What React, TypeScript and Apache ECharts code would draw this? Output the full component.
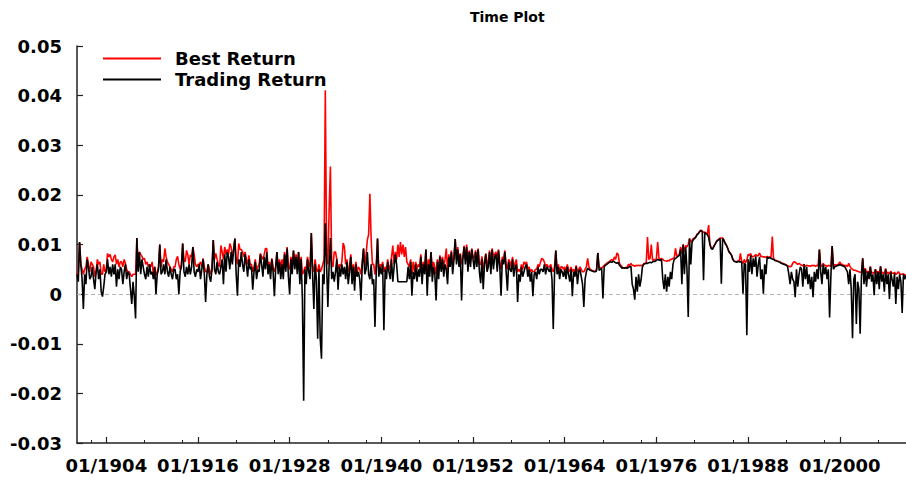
import React, { useEffect, useRef } from "react";
import * as echarts from "echarts";

// Bimonthly observations: Mar 1900 ... Sep 2008 (652 points), values in units of 0.0001
const START_YEAR = 1900;
const START_MONTH = 3;
const STEP_MONTHS = 2;

const xLabelYears = [1904, 1916, 1928, 1940, 1952, 1964, 1976, 1988, 2000];
const minorTickOffsets = [5, 10];
const yTicks = [-0.03, -0.02, -0.01, 0, 0.01, 0.02, 0.03, 0.04, 0.05];

const tradingReturn = [
  40, 25, 105, 60, 30,
  -30, 40, 20, 70, 55, 30,
  35, 55, 30, 10, 45, 60,
  30, 50, 5, -5, 15, 40,
  45, 70, 40, 55, 35, 60,
  40, 60, 15, 50, 30, 55,
  50, 20, 45, 60, 30, 45,
  40, 10, -20, 25, -5, -49,
  113, 45, 85, 40, 70, 55,
  40, 30, 55, 35, 60, 40,
  45, 30, 55, 0, 40, 50,
  100, 40, 45, 60, 40, 70,
  45, 35, 55, 40, 30, 50,
  50, 30, 40, 0, 45, 55,
  102, 45, 35, 55, 40, 60,
  40, 55, 95, 45, 35, 50,
  45, 60, 30, 50, 70, 40,
  -16, 40, 60, 35, 25, 50,
  109, 50, 40, 65, 45, 40,
  55, 70, 20, 80, 45, 85,
  75, 50, 85, 60, 90, 112,
  40, -3, 70, 55, 85, 60,
  45, 80, 60, 35, 70, 50,
  55, 9, 45, 65, 30, 50,
  45, 80, 60, 35, 75, 50,
  85, 40, 60, 30, 70, 45,
  -4, 50, 85, 40, 65, 30,
  60, 30, 80, 45, 92, 35,
  0, 70, 40, 88, 50, 75,
  40, 85, 20, 70, -10, -215,
  50, 20, 70, 45, 30, 123,
  40, -30, 60, 30, -90, 50,
  -90, -130, 40, 20, 143, 60,
  -26, 60, 113, 30, 45, 25,
  45, 70, 9, 55, 35, 60,
  40, 55, 30, 65, 20, 45,
  75, 20, 55, 7, 60, 35,
  45, 30, -13, 60, 92, 40,
  50, 85, 40, 30, 60, 20,
  30, -66, 45, 112, 35, 55,
  40, 60, -73, 50, 30, 65,
  45, 30, 70, 25, 55, 80,
  60, 25, 25, 25, 25, 25,
  25, 25, 25, 55, 30, 65,
  -3, 45, 30, 60, 25, 50,
  35, 75, 20, 60, 40, 90,
  -3, 60, 35, 85, 25, 55,
  40, -13, 65, 30, 75, 45,
  70, 35, 60, 50, 20, 75,
  55, 85, 40, 70, 111, 60,
  90, 55, 80, -13, 70, 95,
  60, 95, 45, 85, 55, 90,
  70, 50, 85, 55, 90, 45,
  22, 70, 10, 60, 80, 45,
  55, 85, 40, 90, 50, 75,
  80, 45, 88, 55, -3, 70,
  60, 85, 45, 7, 65, 50,
  45, 70, 35, 55, 60, -16,
  40, 25, 55, 35, 45, 55,
  60, 35, 50, 25, 45, -4,
  40, 45, 30, 55, 40, 50,
  50, 45, 60, 40, 55, 50,
  45, 55, 30, -70, 40, 88,
  40, 55, 30, 50, 45, 35,
  50, 30, 55, 40, 25, 50,
  -4, 45, 35, 55, 20, 45,
  50, 35, 20, -26, 30, 45,
  52, 50, 48, 47, 46, 45,
  45, 47, 83, 48, 50, 52,
  -9, 55, 58, 60, 62, 64,
  65, 64, 66, 65, 63, 62,
  64, 58, 55, 52, 53, 52,
  53, 52, 54, 55, 56, 20,
  10, -11, 35, 5, 40, 15,
  30, 55, 60, 61, 62, 62,
  63, 64, 63, 65, 66, 66,
  68, 70, 69, 68, 70, 30,
  10, 40, 5, 35, 15, 45,
  30, 60, 70, 72, 74, 76,
  78, 90, 20, 100, 40, 95,
  50, -46, 112, 60, 105, 110,
  112, 115, 120, 122, 126, 128,
  126, 28, 124, 122, 120, 115,
  100, 92, 90, 95, 100, 105,
  108, 110, 112, 21, 112, 108,
  102, 98, 92, 85, 82, 78,
  70, 66, 65, 64, 66, 65,
  65, 64, 1, 62, 60, -83,
  70, 45, 78, 40, 72, 55,
  76, 35, 60, 75, 30, 50,
  1, 60, 40, 75, 72, 74,
  72, 71, 70, 68, 67, 66,
  65, 64, 62, 61, 60, 59,
  58, 56, 40, 20, 45, 30,
  25, -6, 50, 15, 40, 55,
  50, 15, 60, 30, 55, 20,
  40, 10, 35, -6, 45, 25,
  50, 30, 90, 45, 20, 60,
  40, 55, 30, 50, -47, 35,
  97, 50, 55, 56, 57, 58,
  59, 58, 57, 56, 55, 50,
  45, 20, 50, 10, -89, 30,
  40, -60, 25, 10, -80, 35,
  72, 20, 50, 15, 45, 30,
  55, 25, 40, -2, 50, 20,
  45, 10, 56, 25, 40, 5,
  50, 20, 40, -10, 45, 30,
  15, 42, -20, 35, 10, 40,
  25, -38, 40, 30, 38,
];

const bestReturn = [
  40, 45, 105, 60, 50,
  40, 50, 55, 75, 60, 45,
  65, 60, 55, 35, 45, 70,
  60, 65, 40, 40, 60, 45,
  50, 82, 75, 80, 70, 65,
  75, 79, 60, 70, 55, 65,
  65, 55, 70, 62, 50, 45,
  45, 40, 35, 40, 40, 40,
  113, 60, 85, 80, 76, 70,
  72, 60, 65, 55, 60, 55,
  65, 40, 55, 38, 45, 55,
  100, 55, 70, 65, 92, 75,
  65, 60, 55, 50, 45, 55,
  55, 70, 76, 60, 50, 60,
  102, 70, 65, 88, 80, 60,
  79, 75, 95, 80, 60, 55,
  60, 60, 65, 55, 72, 55,
  45, 45, 60, 50, 40, 50,
  109, 70, 82, 70, 60, 55,
  98, 85, 70, 95, 80, 90,
  80, 102, 95, 75, 90, 112,
  70, 60, 102, 90, 90, 85,
  75, 85, 70, 60, 78, 60,
  60, 45, 55, 70, 50, 55,
  60, 82, 75, 70, 80, 92,
  92, 55, 65, 50, 72, 55,
  45, 55, 85, 55, 70, 50,
  70, 55, 85, 60, 95, 55,
  50, 75, 60, 88, 60, 80,
  60, 85, 55, 75, 40, 45,
  55, 50, 75, 60, 55, 123,
  55, 45, 70, 50, 45, 60,
  45, 50, 60, 70, 411, 90,
  60, 169, 257, 60, 55, 85,
  85, 70, 50, 60, 55, 65,
  103, 95, 60, 70, 45, 55,
  80, 45, 60, 40, 65, 45,
  55, 50, 40, 65, 92, 55,
  80, 109, 120, 202, 110, 60,
  60, 40, 60, 112, 50, 60,
  55, 65, 45, 55, 50, 70,
  50, 55, 75, 98, 60, 85,
  70, 100, 75, 105, 80, 100,
  75, 95, 65, 60, 55, 70,
  40, 65, 45, 65, 50, 60,
  55, 80, 45, 65, 55, 90,
  40, 70, 55, 85, 50, 65,
  55, 40, 70, 55, 78, 60,
  75, 55, 70, 92, 45, 80,
  60, 88, 55, 75, 111, 70,
  95, 65, 82, 60, 75, 98,
  70, 100, 60, 88, 65, 92,
  76, 72, 88, 65, 92, 60,
  60, 76, 50, 65, 82, 55,
  70, 88, 60, 92, 75, 80,
  85, 70, 90, 65, 50, 75,
  70, 88, 60, 50, 70, 65,
  55, 75, 55, 62, 70, 45,
  50, 45, 60, 50, 65, 60,
  65, 50, 55, 45, 50, 45,
  45, 50, 50, 60, 55, 65,
  72, 70, 65, 55, 60, 55,
  55, 60, 50, 45, 55, 88,
  50, 60, 45, 55, 55, 50,
  55, 45, 60, 50, 45, 55,
  45, 50, 45, 58, 45, 50,
  55, 50, 45, 45, 50, 55,
  72, 55, 50, 48, 47, 46,
  46, 50, 83, 55, 52, 53,
  55, 58, 60, 62, 64, 65,
  68, 70, 66, 75, 70, 83,
  80, 62, 58, 55, 53, 52,
  54, 53, 60, 58, 62, 58,
  58, 56, 58, 57, 58, 57,
  58, 57, 61, 62, 63, 115,
  70, 72, 100, 68, 70, 68,
  72, 105, 72, 70, 72, 70,
  68, 67, 66, 68, 67, 70,
  70, 72, 73, 92, 76, 78,
  80, 95, 82, 100, 85, 98,
  95, 100, 112, 105, 108, 112,
  113, 116, 121, 123, 127, 129,
  127, 124, 125, 123, 121, 139,
  101, 93, 91, 96, 101, 106,
  109, 111, 113, 113, 113, 109,
  103, 99, 93, 86, 83, 79,
  71, 67, 66, 65, 67, 66,
  82, 65, 62, 70, 63, 68,
  80, 78, 82, 75, 76, 77,
  80, 77, 78, 83, 76, 76,
  75, 75, 74, 76, 74, 75,
  74, 116, 71, 69, 68, 67,
  66, 65, 63, 62, 61, 60,
  59, 57, 56, 55, 56, 62,
  65, 64, 62, 60, 62, 60,
  58, 57, 60, 56, 58, 57,
  57, 56, 58, 57, 58, 56,
  58, 57, 90, 57, 56, 62,
  57, 58, 56, 58, 57, 56,
  97, 56, 60, 58, 59, 60,
  65, 60, 60, 58, 57, 58,
  55, 62, 56, 52, 50, 48,
  48, 47, 46, 45, 44, 44,
  72, 42, 52, 43, 46, 42,
  56, 42, 44, 41, 50, 42,
  46, 40, 56, 42, 44, 40,
  52, 41, 44, 40, 46, 42,
  42, 44, 40, 42, 45, 41,
  40, 40, 41, 39, 38,
];

const UNIT = 0.0001;
const FONT = "DejaVu Sans";

function buildCategories(n: number): string[] {
  const out: string[] = [];
  let y = START_YEAR;
  let m = START_MONTH;
  for (let i = 0; i < n; i++) {
    out.push(`${m < 10 ? "0" + m : m}/${y}`);
    m += STEP_MONTHS;
    if (m > 12) {
      m -= 12;
      y += 1;
    }
  }
  return out;
}

export default function App() {
  const ref = useRef<HTMLDivElement>(null);

  useEffect(() => {
    if (!ref.current) return;
    const chart = echarts.init(ref.current, null, { renderer: "svg" });
    const n = Math.min(tradingReturn.length, bestReturn.length);
    const categories = buildCategories(n);
    const majorSet = new Set(xLabelYears.map((y) => `01/${y}`));
    const minorSet = new Set<string>();
    xLabelYears.concat([xLabelYears[0] - 12]).forEach((y) =>
      minorTickOffsets.forEach((o) => minorSet.add(`01/${y + o}`))
    );
    const trading = tradingReturn.slice(0, n).map((v) => +(v * UNIT).toFixed(4));
    const best = bestReturn.slice(0, n).map((v) => +(v * UNIT).toFixed(4));

    const option: any = {
      animation: false,
      backgroundColor: "#ffffff",
      title: {
        text: "Time Plot",
        left: 470,
        top: 10,
        padding: 0,
        textStyle: { fontFamily: FONT, fontWeight: "bold", fontSize: 14, color: "#000" },
      },
      legend: {
        orient: "vertical",
        left: 103,
        top: 48,
        padding: 0,
        itemGap: 0,
        itemWidth: 58,
        itemHeight: 2,
        icon: "rect",
        data: ["Best Return", "Trading Return"],
        textStyle: {
          fontFamily: FONT,
          fontWeight: "bold",
          fontSize: 18,
          lineHeight: 13,
          color: "#000",
          padding: [8, 0, 0, 9],
        },
      },
      grid: { left: 77, right: 0, top: 46, bottom: 37, containLabel: false },
      xAxis: [
        {
          type: "category",
          data: categories,
          boundaryGap: false,
          position: "bottom",
          axisLine: { onZero: false, lineStyle: { color: "#222", width: 1.5 } },
          axisTick: {
            inside: true,
            length: 6,
            interval: (_i: number, v: string) => majorSet.has(v),
            lineStyle: { color: "#222", width: 1.2 },
          },
          axisLabel: {
            interval: (_i: number, v: string) => majorSet.has(v),
            margin: 13,
            fontFamily: FONT,
            fontWeight: "bold",
            fontSize: 18,
            color: "#000",
          },
          splitLine: { show: false },
        },
        {
          type: "category",
          data: categories,
          boundaryGap: false,
          position: "bottom",
          axisLine: { show: false, onZero: false },
          axisTick: {
            inside: true,
            length: 3,
            interval: (_i: number, v: string) => minorSet.has(v),
            lineStyle: { color: "#222", width: 1 },
          },
          axisLabel: { show: false },
          splitLine: { show: false },
        },
      ],
      yAxis: {
        type: "value",
        min: yTicks[0],
        max: yTicks[yTicks.length - 1],
        interval: 0.01,
        axisLine: { show: true, lineStyle: { color: "#222", width: 1.5 } },
        axisTick: { show: true, inside: true, length: 6, lineStyle: { color: "#222", width: 1.2 } },
        splitLine: { show: false },
        axisLabel: {
          margin: 15,
          fontFamily: FONT,
          fontWeight: "bold",
          fontSize: 18,
          color: "#000",
          formatter: (v: number) => {
            const r = Math.round(v * 100) / 100;
            return r === 0 ? "0" : r.toFixed(2);
          },
        },
      },
      series: [
        {
          name: "Best Return",
          type: "line",
          xAxisIndex: 0,
          data: best,
          symbol: "none",
          showSymbol: false,
          color: "#ff0000",
          lineStyle: { color: "#ff0000", width: 1.6 },
          z: 2,
          markLine: {
            silent: true,
            symbol: "none",
            label: { show: false },
            lineStyle: { color: "#b5b5b5", type: [4, 3], width: 1 },
            data: [{ yAxis: 0 }],
            z: 1,
          },
        },
        {
          name: "Trading Return",
          type: "line",
          xAxisIndex: 0,
          data: trading,
          symbol: "none",
          showSymbol: false,
          color: "#000000",
          lineStyle: { color: "#000000", width: 1.6 },
          z: 3,
        },
      ],
    };
    chart.setOption(option);
    return () => chart.dispose();
  }, []);

  return (
    <div
      ref={ref}
      style={{ position: "fixed", left: 0, top: 0, width: 906, height: 480, background: "#fff" }}
    />
  );
}
